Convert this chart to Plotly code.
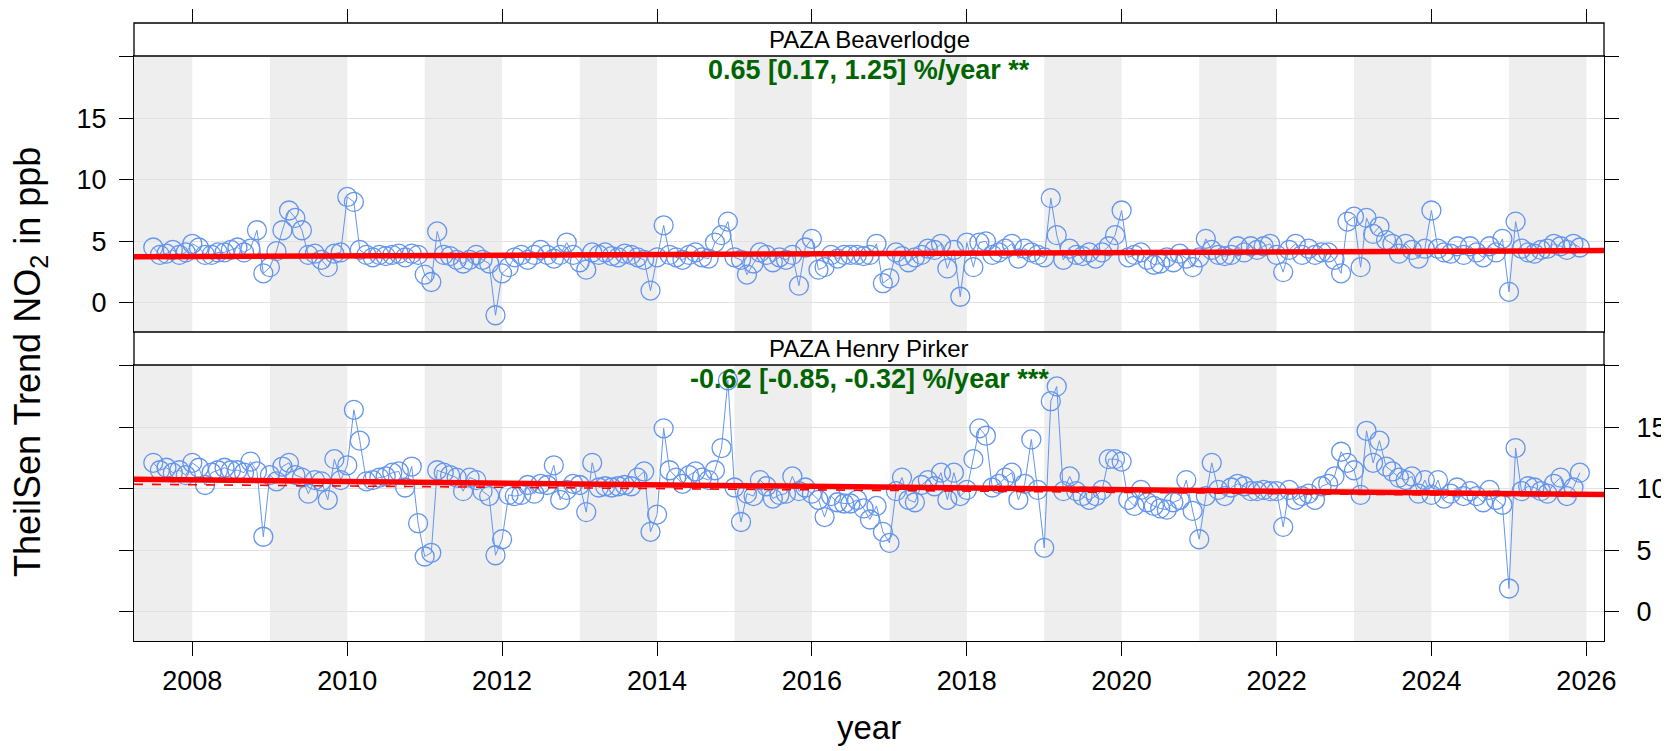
import pandas as pd
import plotly.graph_objects as go

# ---------------- data ----------------
start_month = "2007-07-01"
n_months = 222
dates = pd.date_range(start_month, periods=n_months, freq="MS")

beaverlodge = [
    4.5, 3.9, 4.0, 4.3, 3.9, 4.1,
    4.8, 4.5, 3.9, 3.9, 4.1, 4.1, 4.3, 4.5, 4.1, 4.4, 5.9, 2.4,
    2.9, 4.2, 5.9, 7.5, 6.9, 5.9, 3.9, 4.0, 3.5, 2.9, 4.0, 4.1,
    8.6, 8.2, 4.3, 3.9, 3.7, 3.9, 3.8, 3.9, 4.0, 3.7, 4.0, 3.9,
    2.3, 1.7, 5.8, 3.9, 3.8, 3.5, 3.2, 3.5, 3.9, 3.5, 3.2, -1.0,
    2.4, 2.9, 3.7, 3.9, 3.5, 3.9, 4.3, 3.9, 3.6, 3.9, 4.9, 3.9,
    3.3, 2.7, 4.1, 3.9, 4.1, 3.8, 3.7, 4.0, 3.9, 3.7, 3.5, 1.0,
    3.7, 6.3, 3.9, 3.7, 3.5, 3.9, 4.1, 3.7, 3.6, 4.9, 5.5, 6.6,
    3.7, 3.5, 2.3, 3.2, 4.1, 3.9, 3.3, 3.7, 3.5, 3.9, 1.4, 4.5,
    5.2, 2.7, 2.9, 3.9, 3.6, 3.9, 3.9, 3.9, 3.8, 3.9, 4.8, 1.6,
    2.0, 4.1, 3.8, 3.3, 3.7, 3.9, 4.4, 4.3, 4.8, 2.8, 4.3, 0.5,
    4.9, 2.9, 4.9, 5.0, 3.9, 4.1, 4.4, 4.8, 3.6, 4.4, 4.1, 3.9,
    3.7, 8.5, 5.5, 3.5, 4.4, 3.9, 3.8, 4.1, 3.6, 4.1, 4.6, 5.5,
    7.5, 3.7, 3.9, 4.1, 3.5, 3.1, 3.2, 3.7, 3.3, 4.0, 3.6, 2.9,
    3.7, 5.2, 4.3, 3.9, 3.8, 3.9, 4.6, 4.1, 4.6, 4.3, 4.6, 4.8,
    3.9, 2.5, 4.3, 4.8, 3.9, 4.4, 3.9, 4.1, 4.1, 3.5, 2.4, 6.6,
    7.0, 2.9, 6.9, 5.6, 6.2, 5.1, 4.8, 4.0, 4.8, 4.3, 3.6, 4.4,
    7.5, 4.4, 4.1, 4.0, 4.6, 3.9, 4.6, 4.1, 3.7, 4.6, 4.1, 5.2,
    0.9, 6.6, 4.4, 4.1, 4.0, 4.3, 4.4, 4.8, 4.6, 4.3, 4.8, 4.5,
]

henry_pirker = [
    12.1, 11.5, 11.7, 11.3, 11.5, 11.1,
    12.1, 11.7, 10.3, 11.3, 11.5, 11.7, 11.5, 11.5, 11.3, 12.2, 11.4, 6.1,
    11.1, 10.6, 11.8, 12.1, 11.1, 10.9, 9.6, 10.7, 10.6, 9.1, 12.4, 10.7,
    11.9, 16.4, 13.9, 10.6, 10.7, 10.9, 11.0, 11.3, 11.4, 10.1, 11.8, 7.2,
    4.5, 4.8, 11.5, 11.3, 11.1, 10.9, 9.8, 10.9, 10.7, 9.8, 9.4, 4.6,
    5.9, 9.5, 9.4, 9.5, 10.3, 9.6, 10.4, 10.3, 11.9, 9.1, 9.9, 10.4,
    10.3, 8.1, 12.1, 10.1, 10.2, 10.1, 10.2, 10.3, 10.2, 10.9, 11.4, 6.5,
    7.9, 14.9, 11.5, 10.9, 10.4, 11.1, 11.4, 10.9, 10.7, 11.5, 13.3, 18.8,
    10.1, 7.3, 9.6, 9.4, 10.7, 10.2, 9.2, 9.5, 9.6, 11.0, 9.8, 10.1,
    9.6, 9.1, 7.7, 9.4, 8.9, 8.8, 8.8, 9.1, 8.4, 7.5, 8.6, 6.5,
    5.6, 9.8, 10.9, 9.1, 8.9, 10.3, 10.7, 10.2, 11.3, 9.1, 11.3, 9.4,
    9.9, 12.4, 14.9, 14.3, 10.1, 10.4, 10.9, 11.3, 9.1, 10.4, 14.0, 9.9,
    5.2, 17.1, 18.3, 9.8, 11.0, 9.8, 9.4, 9.1, 9.4, 9.9, 12.4, 12.4,
    12.2, 9.1, 8.6, 9.9, 8.9, 8.6, 8.4, 8.3, 8.9, 9.1, 10.7, 8.2,
    5.9, 9.4, 12.1, 9.9, 9.4, 10.1, 10.4, 10.2, 9.8, 9.8, 9.9, 9.8,
    9.8, 6.9, 9.9, 9.1, 9.4, 9.6, 9.1, 10.2, 10.4, 11.0, 13.0, 12.1,
    11.5, 9.5, 14.7, 12.1, 13.9, 11.8, 11.4, 10.9, 10.7, 11.0, 9.6, 10.7,
    9.5, 10.7, 9.2, 9.6, 10.1, 9.4, 9.8, 9.4, 8.9, 9.9, 9.1, 8.7,
    1.9, 13.3, 9.8, 10.2, 10.1, 9.8, 9.6, 10.4, 10.9, 9.4, 10.1, 11.3,
]

sites = ["PAZA Beaverlodge", "PAZA Henry Pirker"]
trend_labels = ["0.65 [0.17, 1.25] %/year **", "-0.62 [-0.85, -0.32] %/year ***"]

x_range = ["2007-04-01", "2026-03-25"]
trend_x = x_range
beaverlodge_trend = [3.75, 4.25]
beaverlodge_lower = [3.68, 4.15]
beaverlodge_upper = [3.80, 4.30]
henry_trend = [10.76, 9.52]
henry_lower = [10.36, 9.38]
henry_upper = [10.82, 9.60]

y_range = [-2.36, 20.04]
y_ticks = [0, 5, 10, 15, 20]
y_ticktext = ["0", "5", "10", "15", " "]
shade_years = [2007, 2009, 2011, 2013, 2015, 2017, 2019, 2021, 2023, 2025]

# ---------------- layout geometry (page pixels, page has an 8px body offset) ----------------
W, H = 1669, 751
OFF = 8


def px(x):
    return (x - OFF) / W


def py(y):
    return (H - (y - OFF)) / H


x0p, x1p = px(134), px(1604)
top_dom = [py(332), py(56)]
bot_dom = [py(641), py(365)]
top_strip = [py(56), py(23)]
bot_strip = [py(365), py(332)]

BLUE = "#6495ED"
FONT = "Liberation Sans, Arial, sans-serif"
TICKFONT = dict(family=FONT, size=27, color="black")

fig = go.Figure()

panels = [
    ("x", "y", beaverlodge, beaverlodge_trend, beaverlodge_lower, beaverlodge_upper),
    ("x2", "y2", henry_pirker, henry_trend, henry_lower, henry_upper),
]
for xa, ya, vals, tr, lo, up in panels:
    fig.add_trace(go.Scatter(
        x=dates, y=vals, xaxis=xa, yaxis=ya, mode="lines+markers",
        line=dict(color=BLUE, width=1),
        marker=dict(symbol="circle-open", size=19, color=BLUE, line=dict(width=1.3)),
        showlegend=False, hoverinfo="skip"))
    for dv in (lo, up):
        fig.add_trace(go.Scatter(
            x=trend_x, y=dv, xaxis=xa, yaxis=ya, mode="lines",
            line=dict(color="#FF0000", width=1.6, dash="dash"),
            showlegend=False, hoverinfo="skip"))
    fig.add_trace(go.Scatter(
        x=trend_x, y=tr, xaxis=xa, yaxis=ya, mode="lines",
        line=dict(color="#FF0000", width=5.5),
        showlegend=False, hoverinfo="skip"))

# dummy trace for the top tick axis above the strip
fig.add_trace(go.Scatter(x=[dates[0]], y=[None], xaxis="x3", yaxis="y",
                         mode="markers", showlegend=False, hoverinfo="skip"))

shapes = []
for xa, ya in (("x", "y"), ("x2", "y2")):
    for yr in shade_years:
        a = max(pd.Timestamp(f"{yr}-01-01"), pd.Timestamp(x_range[0]))
        b = min(pd.Timestamp(f"{yr + 1}-01-01"), pd.Timestamp(x_range[1]))
        shapes.append(dict(type="rect", xref=xa, yref=f"{ya} domain",
                           x0=a, x1=b, y0=0, y1=1, fillcolor="#eeeeee",
                           line=dict(width=0), layer="below"))
for s in (top_strip, bot_strip):
    shapes.append(dict(type="rect", xref="paper", yref="paper", x0=x0p, x1=x1p,
                       y0=s[0], y1=s[1], fillcolor="white",
                       line=dict(color="black", width=1.3), layer="above"))
fig.update_layout(shapes=shapes)

common_x = dict(range=x_range, type="date", showgrid=False, zeroline=False,
                showline=True, linecolor="black", linewidth=1.3, mirror=True,
                domain=[x0p, x1p], tick0="2008-01-01", dtick="M24",
                tickformat="%Y", ticklen=14, tickwidth=1.2, tickcolor="black",
                tickfont=TICKFONT, automargin=False)
common_y = dict(range=y_range, tickvals=y_ticks, ticktext=y_ticktext,
                showgrid=True, gridcolor="#e2e2e2", gridwidth=1, zeroline=False,
                showline=True, linecolor="black", linewidth=1.3, mirror="ticks",
                ticks="outside", ticklen=14, tickwidth=1.2, tickcolor="black",
                tickfont=TICKFONT, automargin=False)

fig.update_layout(
    width=W, height=H, margin=dict(l=0, r=0, t=0, b=0, pad=0, autoexpand=False),
    paper_bgcolor="white", plot_bgcolor="white",
    font=dict(family=FONT, color="black"),
    xaxis=dict(**common_x, anchor="y", ticks="", showticklabels=False),
    yaxis=dict(**common_y, anchor="x", domain=top_dom, side="left",
               ticklabelstandoff=7),
    xaxis2=dict(**common_x, anchor="y2", ticks="outside", showticklabels=True,
                matches="x", ticklabelstandoff=1),
    yaxis2=dict(**common_y, anchor="x2", domain=bot_dom, side="right",
                ticklabelstandoff=12),
    xaxis3=dict(range=x_range, type="date", overlaying="x", anchor="free",
                position=top_strip[1], side="top", showline=False, showgrid=False,
                zeroline=False, tick0="2008-01-01", dtick="M24", ticks="outside",
                ticklen=14, tickwidth=1.2, tickcolor="black", showticklabels=False,
                domain=[x0p, x1p], automargin=False),
)

ann = []
for s, name in zip((top_strip, bot_strip), sites):
    ann.append(dict(x=(x0p + x1p) / 2, y=(s[0] + s[1]) / 2, xref="paper", yref="paper",
                    text=name, showarrow=False, xanchor="center", yanchor="middle",
                    font=dict(family=FONT, size=24, color="black")))
for ya, lab in (("y", trend_labels[0]), ("y2", trend_labels[1])):
    ann.append(dict(x=0.5, y=1, xref="x domain" if ya == "y" else "x2 domain",
                    yref=f"{ya} domain", text=f"<b>{lab}</b>", showarrow=False,
                    xanchor="center", yanchor="top", yshift=3,
                    font=dict(family=FONT, size=27, color="#006400")))
ann.append(dict(x=px(30), y=py(362), xref="paper", yref="paper",
                text="TheilSen Trend NO<sub>2</sub> in ppb", textangle=-90,
                showarrow=False, xanchor="center", yanchor="middle",
                font=dict(family=FONT, size=36, color="black")))
ann.append(dict(x=(x0p + x1p) / 2, y=py(727), xref="paper", yref="paper",
                text="year", showarrow=False, xanchor="center", yanchor="middle",
                font=dict(family=FONT, size=33, color="black")))
fig.update_layout(annotations=ann)

fig.write_html("out.html")
